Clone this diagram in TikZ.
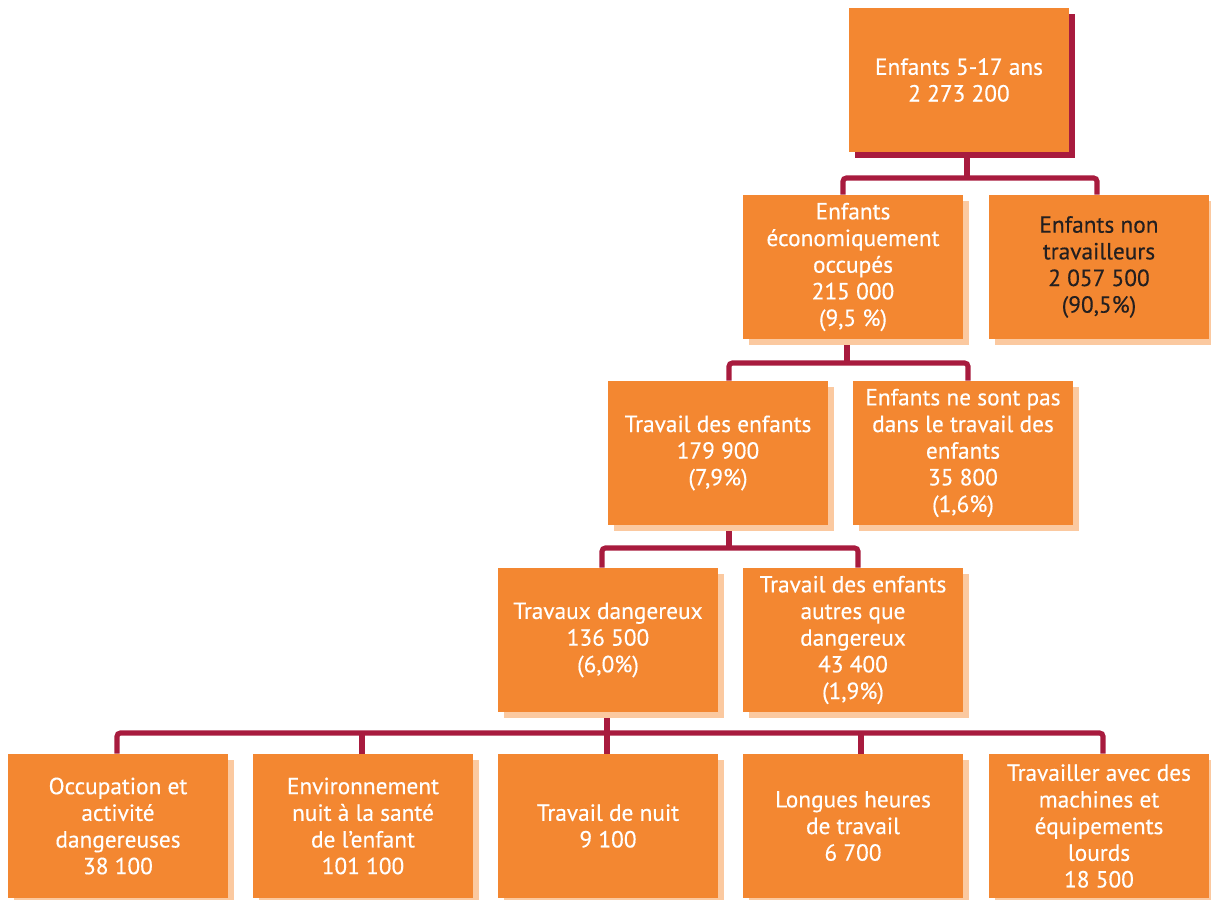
\documentclass[tikz,border=0pt]{standalone}
\usepackage{fontspec}
\setmainfont{PT Sans}[FakeBold=0.35]
\usetikzlibrary{shadows}
\definecolor{boxor}{RGB}{243,135,49}
\definecolor{crim}{RGB}{168,27,62}
\definecolor{peach}{RGB}{251,201,160}
\definecolor{darktxt}{RGB}{35,31,32}
\pgfdeclarelayer{bg}
\pgfsetlayers{bg,main}
\begin{document}
\begin{tikzpicture}[x=0.75pt,y=-0.75pt,
  box/.style={fill=boxor, minimum width=165pt, minimum height=108pt, inner sep=0pt,
    align=center, text=white, font=\fontsize{17.5}{20}\selectfont,
    general shadow={fill=peach, shadow xshift=4.5pt, shadow yshift=-4.5pt}},
  topbox/.style={box, general shadow={fill=crim, shadow xshift=4.5pt, shadow yshift=-4.5pt}},
  conn/.style={draw=crim, line width=3.8pt, rounded corners=2.5pt}]
\useasboundingbox (0,0) rectangle (1211,900);
% level 1
\node[topbox] (top) at (959,80) {Enfants 5-17 ans\\2 273 200};
% level 2
\node[box] (ecoc) at (853,267) {Enfants\\économiquement\\occupés\\215 000\\(9,5 \%)};
\node[box, text=darktxt] (nontr) at (1099,267) {Enfants non\\travailleurs\\2 057 500\\(90,5\%)};
% level 3
\node[box] (trav) at (718,453) {Travail des enfants\\179 900\\(7,9\%)};
\node[box] (nepas) at (963,453) {Enfants ne sont pas\\dans le travail des\\enfants\\35 800\\(1,6\%)};
% level 4
\node[box] (dang) at (608,640) {Travaux dangereux\\136 500\\(6,0\%)};
\node[box] (autres) at (853,640) {Travail des enfants\\autres que\\dangereux\\43 400\\(1,9\%)};
% level 5
\node[box] (occ) at (118,826) {Occupation et\\activité\\dangereuses\\38 100};
\node[box] (env) at (363,826) {Environnement\\nuit à la santé\\de l{\char"0027}enfant\\101 100};
\node[box] (nuit) at (608,826) {Travail de nuit\\9 100};
\node[box] (longues) at (853,826) {Longues heures\\de travail\\6 700};
\node[box] (mach) at (1099,826) {Travailler avec des\\machines et\\équipements\\lourds\\18 500};
% branch points
\coordinate (b1) at (967,178);
\coordinate (b2) at (847,363);
\coordinate (b3) at (729,548);
\coordinate (b4) at (607,733);
\begin{pgfonlayer}{bg}
\draw[conn] (top.south -| b1) -- (b1);
\draw[conn] ([xshift=-7.5pt]ecoc.north) |- (b1) -| ([xshift=-1.5pt]nontr.north);
\draw[conn] (ecoc.south -| b2) -- (b2);
\draw[conn] ([xshift=8.25pt]trav.north) |- (b2) -| ([xshift=3.75pt]nepas.north);
\draw[conn] (trav.south -| b3) -- (b3);
\draw[conn] ([xshift=-4.5pt]dang.north) |- (b3) -| ([xshift=3.75pt]autres.north);
\draw[conn] (dang.south -| b4) -- (b4);
\draw[conn] ([xshift=-0.75pt]occ.north) |- (b4) -| ([xshift=3pt]mach.north);
\draw[conn] ([xshift=-0.75pt]env.north) -- ([xshift=-0.75pt]env.north |- b4);
\draw[conn] ([xshift=-0.75pt]nuit.north) -- ([xshift=-0.75pt]nuit.north |- b4);
\draw[conn] ([xshift=6pt]longues.north) -- ([xshift=6pt]longues.north |- b4);
\end{pgfonlayer}
\end{tikzpicture}
\end{document}
